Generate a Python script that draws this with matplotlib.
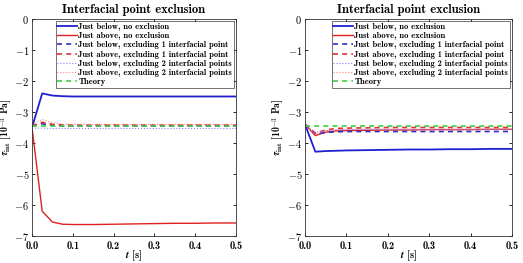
import matplotlib
matplotlib.use("Agg")
import matplotlib.pyplot as plt
import numpy as np

plt.rcParams['mathtext.fontset'] = 'cm'
plt.rcParams['font.family'] = ['cmb10', 'DejaVu Serif']

t = [0.0, 0.025, 0.05, 0.075, 0.1, 0.15, 0.2, 0.25, 0.3, 0.35, 0.4, 0.45, 0.5]

# Left panel
L_below_none = [-3.50, -2.40, -2.47, -2.49, -2.50, -2.50, -2.50, -2.50, -2.50, -2.50, -2.50, -2.50, -2.50]
L_above_none = [-3.50, -6.20, -6.55, -6.62, -6.63, -6.63, -6.62, -6.61, -6.60, -6.59, -6.59, -6.58, -6.58]
L_below_ex1 = [-3.45, -3.38, -3.43, -3.45, -3.45, -3.45, -3.45, -3.45, -3.45, -3.45, -3.45, -3.45, -3.45]
L_above_ex1 = [-3.45, -3.33, -3.40, -3.42, -3.42, -3.42, -3.42, -3.42, -3.42, -3.42, -3.42, -3.42, -3.42]
L_below_ex2 = [-3.52, -3.52, -3.53, -3.53, -3.53, -3.53, -3.53, -3.53, -3.53, -3.53, -3.53, -3.53, -3.53]
L_above_ex2 = [-3.40, -3.24, -3.34, -3.39, -3.40, -3.40, -3.40, -3.40, -3.40, -3.40, -3.40, -3.40, -3.40]

# Right panel
R_below_none = [-3.40, -4.28, -4.26, -4.25, -4.24, -4.23, -4.22, -4.21, -4.21, -4.20, -4.20, -4.19, -4.19]
R_above_none = [-3.40, -3.76, -3.65, -3.61, -3.60, -3.59, -3.58, -3.58, -3.57, -3.57, -3.57, -3.56, -3.56]
R_below_ex1 = [-3.40, -3.70, -3.66, -3.64, -3.63, -3.63, -3.63, -3.63, -3.63, -3.63, -3.63, -3.63, -3.63]
R_above_ex1 = [-3.40, -3.68, -3.58, -3.53, -3.52, -3.51, -3.50, -3.50, -3.50, -3.50, -3.50, -3.50, -3.50]
R_below_ex2 = [-3.40, -3.66, -3.60, -3.58, -3.57, -3.56, -3.56, -3.56, -3.56, -3.56, -3.56, -3.56, -3.56]
R_above_ex2 = [-3.40, -3.72, -3.60, -3.57, -3.56, -3.55, -3.55, -3.55, -3.55, -3.55, -3.55, -3.55, -3.55]

theory = -3.45

labels = ["Just below, no exclusion", "Just above, no exclusion",
          "Just below, excluding 1 interfacial point", "Just above, excluding 1 interfacial point",
          "Just below, excluding 2 interfacial points", "Just above, excluding 2 interfacial points",
          "Theory"]

xticks = [0.0, 0.1, 0.2, 0.3, 0.4, 0.5]
yticks = [0, -1, -2, -3, -4, -5, -6, -7]

fig = plt.figure(figsize=(5.23, 2.63), dpi=100)
ax1 = fig.add_axes([32/523, 1-236/263, 204/523, 217/263])
ax2 = fig.add_axes([305/523, 1-236/263, 207/523, 217/263])

def draw(ax, data):
    bn, an, b1, a1, b2, a2 = data
    ax.plot(t, bn, color='#2020d0', lw=1.3, label=labels[0])
    ax.plot(t, an, color='#e02020', lw=1.0, label=labels[1])
    ax.plot(t, b1, color='#3030c0', lw=1.2, ls=(0, (3, 2.5)), label=labels[2])
    ax.plot(t, a1, color='#e03030', lw=1.2, ls=(0, (3, 2.5)), label=labels[3])
    ax.plot(t, b2, color='#8080ff', lw=0.8, ls=':', label=labels[4])
    ax.plot(t, a2, color='#ff8080', lw=0.8, ls=':', label=labels[5])
    ax.plot([t[0], t[-1]], [theory, theory], color='#40d040', lw=1.2, ls=(0, (3, 2.5)), label=labels[6])
    ax.set_xlim(0, 0.5)
    ax.set_ylim(-7, 0)
    ax.set_xticks(xticks)
    ax.set_xticklabels(['%.1f' % v for v in xticks])
    ax.set_yticks(yticks)
    ax.set_yticklabels([r'$\mathbf{%d}$' % v for v in yticks])
    ax.tick_params(labelsize=7.5, direction='in', length=2.5, top=True, right=True, width=0.6, pad=2)
    ax.tick_params(axis='x', pad=3.5)
    for s in ax.spines.values():
        s.set_linewidth(0.6)
        s.set_color('#333333')
    ax.set_title('Interfacial point exclusion', fontsize=9, pad=4)
    ax.set_xlabel(r'$\boldsymbol{t}$ [s]', fontsize=7.5)
    ax.xaxis.set_label_coords(0.5, -0.058)
    ax.set_ylabel(r'$\boldsymbol{\tau}_{\mathbf{int}}$ [10$^{\mathbf{-3}}$ Pa]', fontsize=7)
    ax.yaxis.set_label_coords(-0.085, 0.5)
    leg = ax.legend(loc='upper right', fontsize=6.1, frameon=True, fancybox=False,
                    edgecolor='#333333', handlelength=2.3, handletextpad=0.2,
                    borderpad=0.2, labelspacing=0.15, borderaxespad=0.25)
    leg.get_frame().set_linewidth(0.6)

draw(ax1, [L_below_none, L_above_none, L_below_ex1, L_above_ex1, L_below_ex2, L_above_ex2])
draw(ax2, [R_below_none, R_above_none, R_below_ex1, R_above_ex1, R_below_ex2, R_above_ex2])

fig.savefig('out.png', dpi=100)
